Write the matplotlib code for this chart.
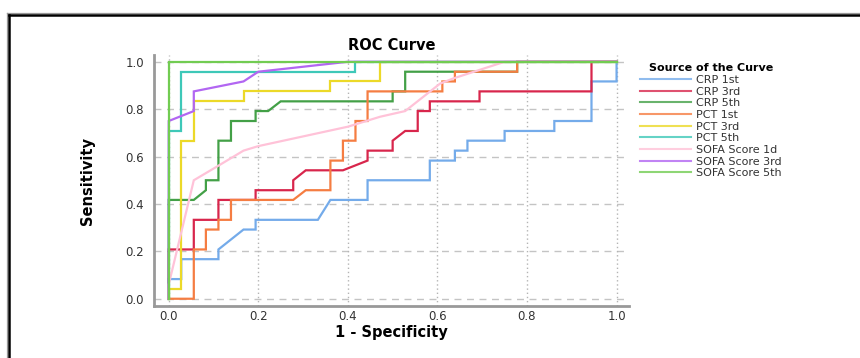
import matplotlib
matplotlib.use('Agg')
import matplotlib.pyplot as plt
from matplotlib.lines import Line2D

# ROC step curves (1 - specificity, sensitivity)
crp1_x = [0, 0, 0.028, 0.028, 0.111, 0.111, 0.167, 0.194, 0.194, 0.333, 0.361, 0.444, 0.444,
          0.583, 0.583, 0.639, 0.639, 0.667, 0.667, 0.75, 0.75, 0.861, 0.861, 0.944, 0.944, 1.0, 1.0]
crp1_y = [0, 0.083, 0.083, 0.167, 0.167, 0.208, 0.292, 0.292, 0.333, 0.333, 0.417, 0.417, 0.5,
          0.5, 0.583, 0.583, 0.625, 0.625, 0.667, 0.667, 0.708, 0.708, 0.75, 0.75, 0.917, 0.917, 1.0]

crp3_x = [0, 0, 0.056, 0.056, 0.111, 0.111, 0.194, 0.194, 0.278, 0.278, 0.306, 0.389, 0.444,
          0.444, 0.5, 0.5, 0.528, 0.556, 0.556, 0.583, 0.583, 0.694, 0.694, 0.944, 0.944, 1.0]
crp3_y = [0, 0.208, 0.208, 0.333, 0.333, 0.417, 0.417, 0.458, 0.458, 0.5, 0.542, 0.542, 0.583,
          0.625, 0.625, 0.667, 0.708, 0.708, 0.792, 0.792, 0.833, 0.833, 0.875, 0.875, 1.0, 1.0]

crp5_x = [0, 0, 0.056, 0.083, 0.083, 0.111, 0.111, 0.139, 0.139, 0.194, 0.194, 0.222, 0.25,
          0.5, 0.5, 0.528, 0.528, 0.778, 0.778, 1.0]
crp5_y = [0, 0.417, 0.417, 0.458, 0.5, 0.5, 0.667, 0.667, 0.75, 0.75, 0.792, 0.792, 0.833,
          0.833, 0.875, 0.875, 0.958, 0.958, 1.0, 1.0]

pct1_x = [0, 0.056, 0.056, 0.083, 0.083, 0.111, 0.111, 0.139, 0.139, 0.278, 0.306, 0.361, 0.361,
          0.389, 0.389, 0.417, 0.417, 0.444, 0.444, 0.611, 0.611, 0.639, 0.639, 0.778, 0.778, 1.0]
pct1_y = [0, 0, 0.208, 0.208, 0.292, 0.292, 0.333, 0.333, 0.417, 0.417, 0.458, 0.458, 0.583,
          0.583, 0.667, 0.667, 0.75, 0.75, 0.875, 0.875, 0.917, 0.917, 0.958, 0.958, 1.0, 1.0]

pct3_x = [0, 0, 0.028, 0.028, 0.056, 0.056, 0.167, 0.167, 0.361, 0.361, 0.472, 0.472, 1.0]
pct3_y = [0, 0.042, 0.042, 0.667, 0.667, 0.833, 0.833, 0.875, 0.875, 0.917, 0.917, 1.0, 1.0]

pct5_x = [0, 0, 0.028, 0.028, 0.417, 0.417, 1.0]
pct5_y = [0, 0.708, 0.708, 0.958, 0.958, 1.0, 1.0]

sofa1_x = [0, 0, 0.056, 0.107, 0.167, 0.2, 0.4, 0.472, 0.528, 0.606, 0.636, 0.75, 1.0]
sofa1_y = [0, 0.06, 0.5, 0.557, 0.625, 0.644, 0.726, 0.768, 0.792, 0.908, 0.93, 1.0, 1.0]

sofa3_x = [0, 0, 0.056, 0.056, 0.167, 0.2, 0.4, 1.0]
sofa3_y = [0, 0.75, 0.792, 0.875, 0.917, 0.958, 1.0, 1.0]

sofa5_x = [0, 0, 1.0]
sofa5_y = [0, 1.0, 1.0]

labels = ['CRP 1st', 'CRP 3rd', 'CRP 5th', 'PCT 1st', 'PCT 3rd', 'PCT 5th',
          'SOFA Score 1d', 'SOFA Score 3rd', 'SOFA Score 5th']
colors = ['#74abea', '#d8264c', '#43a047', '#f57d42', '#ecd928', '#3ec8b8',
          '#ffc2d8', '#b266f2', '#72cc52']
curves = [(crp1_x, crp1_y), (crp3_x, crp3_y), (crp5_x, crp5_y), (pct1_x, pct1_y),
          (pct3_x, pct3_y), (pct5_x, pct5_y), (sofa1_x, sofa1_y), (sofa3_x, sofa3_y),
          (sofa5_x, sofa5_y)]
ticks = [0.0, 0.2, 0.4, 0.6, 0.8, 1.0]

fig = plt.figure(figsize=(8.6, 3.58), dpi=100)
ax = fig.add_axes([0.179, 0.145, 0.552, 0.701])

for (xs, ys), lab, col in zip(curves, labels, colors):
    ax.plot(xs, ys, color=col, lw=1.6, label=lab, solid_joinstyle='miter')

ax.set_xlim(-0.033, 1.027)
ax.set_ylim(-0.031, 1.028)
ax.set_xticks(ticks)
ax.set_yticks(ticks)
ax.set_xticklabels(['%.1f' % t for t in ticks])
ax.set_yticklabels(['%.1f' % t for t in ticks])
ax.tick_params(length=0, labelsize=8.5, labelcolor='#333333')
ax.tick_params(axis='x', pad=3)
ax.tick_params(axis='y', pad=7)

for t in ticks:
    ax.axhline(t, color='#c4c4c4', lw=1, ls=(0, (5, 4)), zorder=0)
    ax.axvline(t, color='#b4b4b4', lw=1, ls=(0, (1, 2)), zorder=0)

for s in ['top', 'right']:
    ax.spines[s].set_visible(False)
for s in ['left', 'bottom']:
    ax.spines[s].set_color('#999999')
    ax.spines[s].set_linewidth(2)

ax.set_title('ROC Curve', fontsize=10.5, fontweight='bold', pad=4)
ax.set_xlabel('1 - Specificity', fontsize=10.5, fontweight='bold', labelpad=1)
ax.set_ylabel('Sensitivity', fontsize=10.5, fontweight='bold', labelpad=22)

leg = ax.legend(loc='upper left', bbox_to_anchor=(1.015, 0.985), frameon=False,
                title='Source of the Curve', fontsize=8, labelspacing=0.15,
                handlelength=4.6, handletextpad=0.4, borderaxespad=0.0)
leg.get_title().set_fontweight('bold')
leg.get_title().set_fontsize(8)
for line in leg.get_lines():
    line.set_linewidth(1.5)
    line.set_alpha(0.8)
for txt in leg.get_texts():
    txt.set_color('#333333')

# frame drawn around the output window
fig.add_artist(Line2D([0.008, 1.0], [1 - 12.5 / 358, 1 - 12.5 / 358], color='#999999', lw=0.9))
fig.add_artist(Line2D([0.008, 0.008], [0.0, 1 - 12.5 / 358], color='#999999', lw=0.9))
fig.add_artist(Line2D([0.0105, 1.0], [1 - 15 / 358, 1 - 15 / 358], color='black', lw=1.8))
fig.add_artist(Line2D([0.0105, 0.0105], [0.0, 1 - 15 / 358], color='black', lw=1.8))

fig.savefig('out.png', dpi=100)
